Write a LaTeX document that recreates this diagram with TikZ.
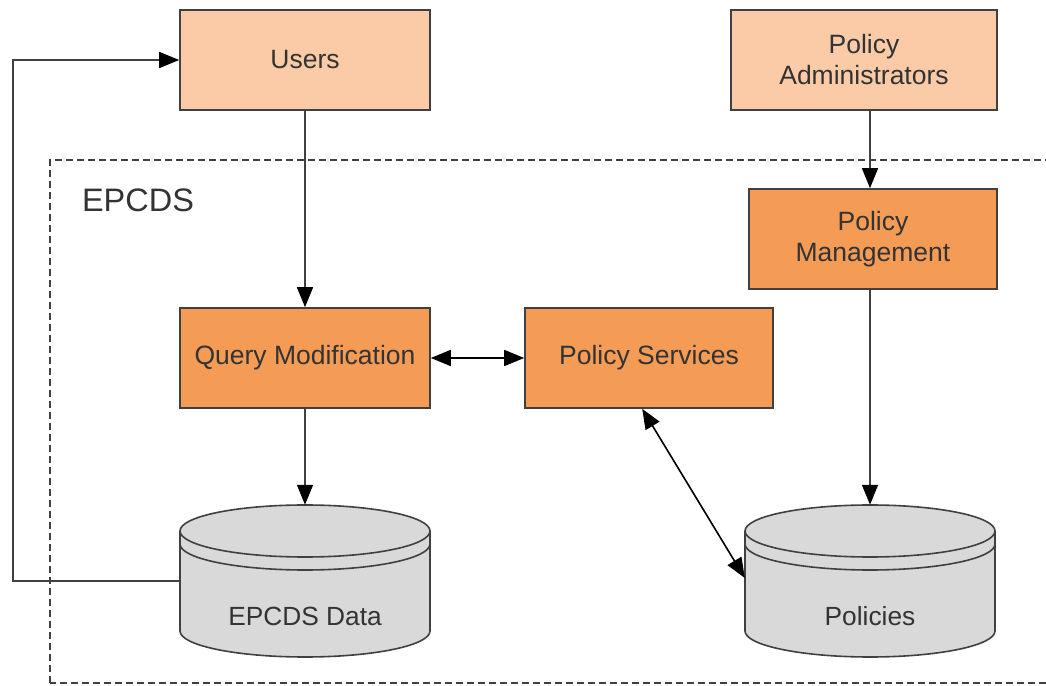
\documentclass[tikz,border=0pt]{standalone}
\usepackage{fontspec}
\setmainfont{Liberation Sans}
\usetikzlibrary{arrows.meta,calc}
\definecolor{lightor}{HTML}{FACBA6}
\definecolor{darkor}{HTML}{F49C55}
\definecolor{cylgray}{HTML}{D9D9D9}
\definecolor{edge}{HTML}{404040}
\definecolor{txt}{HTML}{333333}
\tikzset{
  box/.style={draw=edge, line width=1.6pt, minimum height=100pt, text=txt, align=center, font=\fontsize{26.5}{31}\selectfont, inner sep=0pt},
  outer/.style={box, fill=lightor},
  inner/.style={box, fill=darkor},
  tip/.style={Triangle[length=20pt,width=16pt,color=black]},
  conn/.style={draw=edge, line width=1.6pt, -{Triangle[length=20pt,width=16pt,color=black]}},
  bconn/.style={draw=black, line width=1.6pt, {Triangle[length=20pt,width=16pt]}-{Triangle[length=20pt,width=16pt]}},
  cyl/.style={draw=edge, line width=1.6pt, fill=cylgray},
  holder/.style={minimum width=250pt, minimum height=152pt, inner sep=0pt},
  cyltext/.style={text=txt, font=\fontsize{26.3}{31}\selectfont}
}
\newcommand{\drawcyl}[2]{%
  \fill[cylgray] (#1-125,#2) rectangle (#1+125,#2+100);
  \filldraw[cyl] (#1-125,#2+100) -- (#1-125,#2) arc[start angle=180,end angle=360,x radius=125,y radius=26] -- (#1+125,#2+100);
  \filldraw[cyl] (#1,#2+100) ellipse[x radius=125,y radius=26];
  \draw[draw=edge,line width=1.6pt] (#1-125,#2+87) arc[start angle=180,end angle=360,x radius=125,y radius=26];
}
\begin{document}
\begin{tikzpicture}[x=1pt,y=1pt]
\useasboundingbox (0,0) rectangle (1046,685);
\begin{scope}
\clip (0,0) rectangle (1046,685);
\draw[edge, line width=1.4pt, dash pattern=on 7pt off 4pt] (50,2) rectangle (1070,525);
\end{scope}
\node[text=txt, font=\fontsize{32.5}{38}\selectfont] (lbl) at (138,485) {EPCDS};

\node[outer, minimum width=250pt] (users) at (305,625) {Users};
\node[outer, minimum width=266pt] (padm) at (864,625) {Policy\\Administrators};
\node[inner, minimum width=248pt] (pm) at (873,446) {Policy\\Management};
\node[inner, minimum width=250pt] (qm) at (305,327) {Query Modification};
\node[inner, minimum width=248pt] (ps) at (649,327) {Policy Services};

\drawcyl{305}{54}
\drawcyl{870}{54}
\node[holder] (data) at (305,104) {};
\node[holder] (pol) at (870,104) {};
\node[cyltext] (datat) at (305,69) {EPCDS Data};
\node[cyltext] (polt) at (870,69) {Policies};

\draw[conn] (users.south) -- (qm.north);
\draw[conn] (qm.south) -- (data.north);
\draw[conn] (padm.south -| pol.north) -- (pm.north -| pol.north);
\draw[conn] (pm.south -| pol.north) -- (pol.north);
\draw[bconn] (qm.east) -- (ps.east -| ps.west);
\draw[bconn] ($(ps.south west)+(118,0)$) -- ($(pol.west)+(0,3)$);
\draw[conn] (data.west) -- (13,104) |- (users.west);
\end{tikzpicture}
\end{document}
